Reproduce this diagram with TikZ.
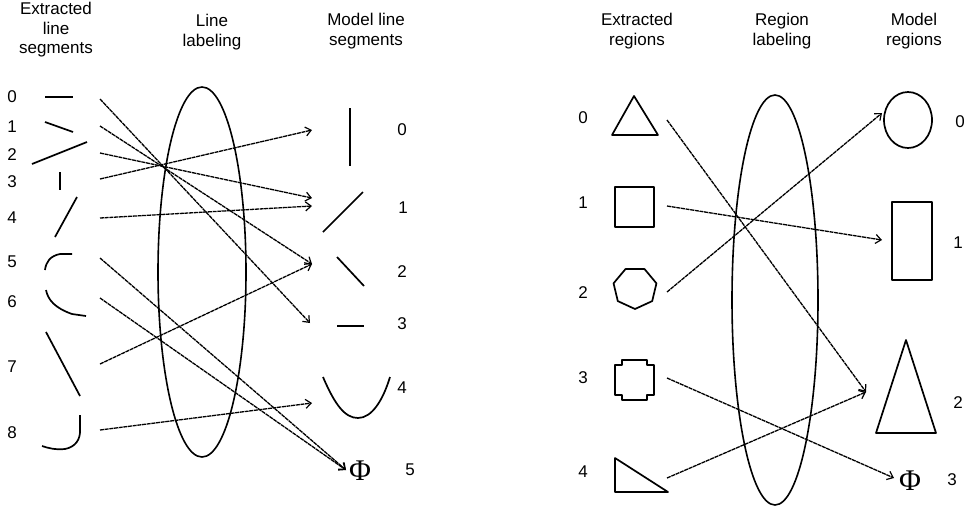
\documentclass[tikz,border=0pt]{standalone}
\usepackage{fontspec}
\setmainfont{Liberation Sans}
\newfontfamily\phifont{Liberation Serif}
\usetikzlibrary{arrows.meta}
\begin{document}
\begin{tikzpicture}[x=1pt,y=-1pt,
  shp/.style={line width=1.7pt, line join=round},
  oval/.style={line width=1.6pt},
  conn/.style={line width=1.3pt, dash pattern=on 4pt off 0.7pt, -{Straight Barb[length=5.5pt,width=9pt,line width=1.2pt]}},
  lbl/.style={font=\fontsize{17}{19}\selectfont, inner sep=0pt},
  hdr/.style={font=\fontsize{17}{19.5}\selectfont, align=center, inner sep=0pt, anchor=north},
  phi/.style={font=\phifont\fontsize{30}{30}\selectfont, inner sep=1pt}]
\useasboundingbox (0,0) rectangle (964,512);

% headers
\node[hdr] (h1) at (56,2) {Extracted\\line\\segments};
\node[hdr] (h2) at (212,14) {Line\\labeling};
\node[hdr] (h3) at (366,13) {Model line\\segments};
\node[hdr] (h4) at (637,13) {Extracted\\regions};
\node[hdr] (h5) at (782,13) {Region\\labeling};
\node[hdr] (h6) at (914,13) {Model\\regions};

% ---------------- left panel ----------------
\node[lbl] (l0) at (12,97) {0};
\node[lbl] (l1) at (12,127) {1};
\node[lbl] (l2) at (12,155) {2};
\node[lbl] (l3) at (12,182) {3};
\node[lbl] (l4) at (12,218) {4};
\node[lbl] (l5) at (12,262) {5};
\node[lbl] (l6) at (12,302) {6};
\node[lbl] (l7) at (12,367) {7};
\node[lbl] (l8) at (12,433) {8};

% extracted line segments
\draw[shp] (45,97) -- (73,97);
\draw[shp] (45,122) -- (73,132);
\draw[shp] (32,164) -- (87,142);
\draw[shp] (60,172) -- (60,190);
\draw[shp] (77,197) -- (55,237);
\draw[shp] (72,254) -- (60,254) .. controls (50,256) and (46,262) .. (45,270);
\draw[shp] (46,290) .. controls (48,300) and (55,308) .. (72,314) -- (86,316);
\draw[shp] (46,332) -- (80,396);
\draw[shp] (80,415) -- (80,428) .. controls (81,440) and (75,447) .. (65,449) .. controls (55,450) and (48,448) .. (42,446);

% line labeling ellipse
\draw[oval] (202,272) ellipse [x radius=44, y radius=185];

% model line segments
\draw[shp] (350,108) -- (350,166);
\draw[shp] (363,192) -- (323,232);
\draw[shp] (337,257) -- (364,286);
\draw[shp] (337,326) -- (364,326);
\draw[shp] (323,377) .. controls (335,405) and (345,418) .. (358,418) .. controls (372,418) and (383,400) .. (390,377);
\node[phi] (phiL) at (360,471) {Φ};

\node[lbl] (m0) at (402,130) {0};
\node[lbl] (m1) at (403,208) {1};
\node[lbl] (m2) at (402,272) {2};
\node[lbl] (m3) at (402,324) {3};
\node[lbl] (m4) at (402,388) {4};
\node[lbl] (m5) at (410,470) {5};

% connector endpoints
\coordinate (s0) at (100,99);
\coordinate (s1) at (100,126);
\coordinate (s2) at (100,153);
\coordinate (s3) at (100,179);
\coordinate (s4) at (100,218);
\coordinate (s5) at (100,258);
\coordinate (s6) at (100,298);
\coordinate (s7) at (100,364);
\coordinate (s8) at (100,430);
\coordinate (e0) at (312,130);
\coordinate (e1a) at (312,198);
\coordinate (e1b) at (312,206);
\coordinate (e2) at (312,264);
\coordinate (e3) at (310,323);
\coordinate (e4) at (312,403);
\coordinate (e5) at (346,470);

\draw[conn] (s0) -- (e3);
\draw[conn] (s1) -- (e2);
\draw[conn] (s2) -- (e1a);
\draw[conn] (s3) -- (e0);
\draw[conn] (s4) -- (e1b);
\draw[conn] (s5) -- (e5);
\draw[conn] (s6) -- (e5);
\draw[conn] (s7) -- (e2);
\draw[conn] (s8) -- (e4);

% ---------------- right panel ----------------
\node[lbl] (r0) at (583,118) {0};
\node[lbl] (r1) at (583,203) {1};
\node[lbl] (r2) at (583,293) {2};
\node[lbl] (r3) at (583,378) {3};
\node[lbl] (r4) at (583,472) {4};

% extracted regions
\draw[shp] (634,96) -- (658,135) -- (612,135) -- cycle;
\draw[shp] (615,187) rectangle (654,227);
\draw[shp] (635,288) +(90:22 and 21) \foreach \k in {1,...,6} { -- +(90+\k*360/7:22 and 21)} -- cycle;
\draw[shp] (622,360) -- (647,360) -- (647,365) -- (654,365) -- (654,395) -- (647,395) -- (647,400) -- (622,400) -- (622,395) -- (615,395) -- (615,365) -- (622,365) -- cycle;
\draw[shp] (615,458) -- (615,492) -- (668,492) -- cycle;

% region labeling ellipse
\draw[oval] (775,300) ellipse [x radius=43, y radius=205];

% model regions
\draw[shp] (908,120) ellipse [x radius=24, y radius=28];
\draw[shp] (892,202) rectangle (932,280);
\draw[shp] (906,340) -- (936,433) -- (876,433) -- cycle;
\node[phi] (phiR) at (910,481) {Φ};

\node[lbl] (q0) at (960,122) {0};
\node[lbl] (q1) at (958,243) {1};
\node[lbl] (q2) at (958,403) {2};
\node[lbl] (q3) at (952,480) {3};

\coordinate (t0) at (667,120);
\coordinate (t1) at (667,206);
\coordinate (t2) at (667,292);
\coordinate (t3) at (667,378);
\coordinate (t4) at (667,478);
\coordinate (f0) at (882,113);
\coordinate (f1) at (882,240);
\coordinate (f2) at (866,392);
\coordinate (f3) at (894,478);

\draw[conn] (t0) -- (f2);
\draw[conn] (t1) -- (f1);
\draw[conn] (t2) -- (f0);
\draw[conn] (t3) -- (f3);
\draw[conn] (t4) -- (f2);
\end{tikzpicture}
\end{document}
